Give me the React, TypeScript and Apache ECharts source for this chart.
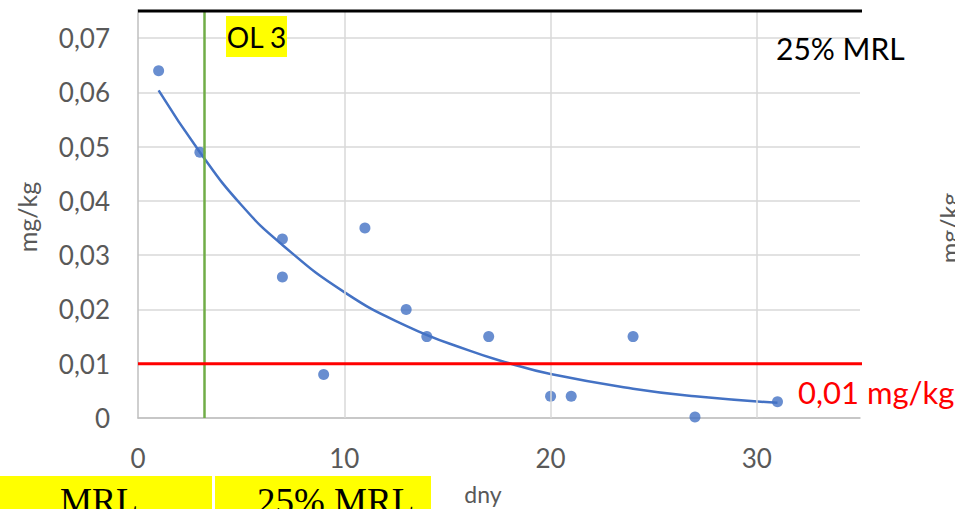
import React, { useEffect, useRef } from "react";
import * as echarts from "echarts";

// Residue measurements: day after application vs. residue in mg/kg
const days = [1, 3, 7, 7, 9, 11, 13, 14, 17, 20, 21, 24, 27, 31];
const residues = [0.064, 0.049, 0.033, 0.026, 0.008, 0.035, 0.02, 0.015, 0.015, 0.004, 0.004, 0.015, 0.0002, 0.003];

// Exponential trend curve, sampled
const trendDays = [1, 3, 5, 7, 10, 13, 16, 18, 20, 24, 27, 31];
const trendValues = [0.0604, 0.049, 0.0393, 0.0319, 0.0232, 0.017, 0.0125, 0.0101, 0.0081, 0.0054, 0.004, 0.0028];

// Reference levels
const quarterMrl = 0.075;
const loq = 0.01;
const olDay = 3.2;
const limitSpan = [0, 35.4];

const xGridDays = [10, 20, 30];

const FONT = "Lato, 'Noto Sans', sans-serif";
const SERIF = "'Liberation Serif', 'DejaVu Serif', serif";
const GREY = "#595959";

function fmt(v: number): string {
  if (v === 0) return "0";
  return v.toFixed(2).replace(".", ",");
}

export default function App() {
  const ref = useRef<HTMLDivElement>(null);

  useEffect(() => {
    if (!ref.current) return;
    const chart = echarts.init(ref.current, null, { renderer: "svg" });
    chart.setOption({
      animation: false,
      backgroundColor: "#ffffff",
      grid: { left: 138, right: 95, top: 10, bottom: 91, containLabel: false },
      xAxis: {
        type: "value",
        min: 0,
        max: 35,
        interval: 10,
        axisLine: { show: true, lineStyle: { color: "#BFBFBF", width: 1.5 } },
        axisTick: { show: false },
        splitLine: { show: false },
        axisLabel: {
          color: GREY,
          fontSize: 26,
          fontFamily: FONT,
          margin: 27,
          showMaxLabel: false,
        },
      },
      yAxis: {
        type: "value",
        min: 0,
        max: 0.0752,
        interval: 0.01,
        axisLine: { show: true, lineStyle: { color: "#BFBFBF", width: 1.5 } },
        axisTick: { show: false },
        splitLine: { show: true, showMaxLine: false, lineStyle: { color: "#D9D9D9", width: 1.5 } },
        axisLabel: {
          color: GREY,
          fontSize: 26,
          fontFamily: FONT,
          margin: 28,
          showMaxLabel: false,
          formatter: (v: number) => fmt(v),
        },
      },
      series: [
        {
          type: "line",
          name: "grid",
          data: [],
          silent: true,
          markLine: {
            silent: true,
            symbol: "none",
            label: { show: false },
            lineStyle: { color: "#D9D9D9", width: 1.5, type: "solid" },
            data: xGridDays.map((d) => ({ xAxis: d })),
          },
        },
        {
          type: "line",
          name: "trend",
          data: trendDays.map((d, i) => [d, trendValues[i]]),
          smooth: true,
          showSymbol: false,
          symbol: "none",
          lineStyle: { color: "#4472C4", width: 2.5 },
          z: 3,
        },
        {
          type: "scatter",
          name: "residues",
          data: days.map((d, i) => [d, residues[i]]),
          symbolSize: 11,
          itemStyle: { color: "#4472C4" },
          z: 4,
        },
        {
          type: "line",
          name: "loq",
          data: limitSpan.map((d) => [d, loq]),
          symbol: "none",
          clip: false,
          lineStyle: { color: "#FF0000", width: 3 },
          z: 5,
        },
        {
          type: "line",
          name: "quarterMrl",
          data: limitSpan.map((d) => [d, quarterMrl]),
          symbol: "none",
          clip: false,
          lineStyle: { color: "#000000", width: 3 },
          z: 5,
        },
        {
          type: "line",
          name: "ol",
          data: [],
          markLine: {
            silent: true,
            symbol: "none",
            label: { show: false },
            lineStyle: { color: "#70AD47", width: 2.5, type: "solid" },
            data: [{ xAxis: olDay }],
          },
          z: 5,
        },
      ],
      graphic: [
        // OL 3 tag
        { type: "rect", left: 226, top: 16, shape: { width: 61, height: 41 }, style: { fill: "#FFFF00" }, z: 10 },
        {
          type: "text",
          x: 256.5,
          y: 37,
          style: { text: "OL 3", font: `28px ${FONT}`, fill: "#000", align: "center", verticalAlign: "middle" },
          z: 11,
        },
        {
          type: "text",
          x: 776,
          y: 48,
          style: { text: "25% MRL", font: `30px ${FONT}`, fill: "#000", align: "left", verticalAlign: "middle" },
          z: 11,
        },
        {
          type: "text",
          x: 798,
          y: 392,
          style: { text: "0,01 mg/kg", font: `31px ${FONT}`, fill: "#FF0000", align: "left", verticalAlign: "middle" },
          z: 11,
        },
        // axis titles
        {
          type: "text",
          x: 27,
          y: 217,
          rotation: Math.PI / 2,
          style: { text: "mg/kg", font: `25px ${FONT}`, fill: GREY, align: "center", verticalAlign: "middle" },
        },
        {
          type: "text",
          x: 483,
          y: 494,
          style: { text: "dny", font: `23px ${FONT}`, fill: GREY, align: "center", verticalAlign: "middle" },
        },
        {
          type: "text",
          x: 949,
          y: 228,
          rotation: Math.PI / 2,
          style: { text: "mg/kg", font: `25px ${FONT}`, fill: GREY, align: "center", verticalAlign: "middle" },
        },
        // bottom tags
        { type: "rect", left: 0, top: 476, shape: { width: 212, height: 40 }, style: { fill: "#FFFF00" }, z: 10 },
        { type: "rect", left: 215, top: 476, shape: { width: 216, height: 40 }, style: { fill: "#FFFF00" }, z: 10 },
        {
          type: "text",
          x: 99,
          y: 483,
          style: { text: "MRL", font: `36px ${SERIF}`, fill: "#000", align: "center", verticalAlign: "top" },
          z: 11,
        },
        {
          type: "text",
          x: 257,
          y: 483,
          style: { text: "25% MRL", font: `37px ${SERIF}`, fill: "#000", align: "left", verticalAlign: "top" },
          z: 11,
        },
      ],
    });
    return () => chart.dispose();
  }, []);

  return (
    <div
      ref={ref}
      style={{ position: "absolute", left: 0, top: 0, width: 955, height: 509, background: "#fff" }}
    />
  );
}
